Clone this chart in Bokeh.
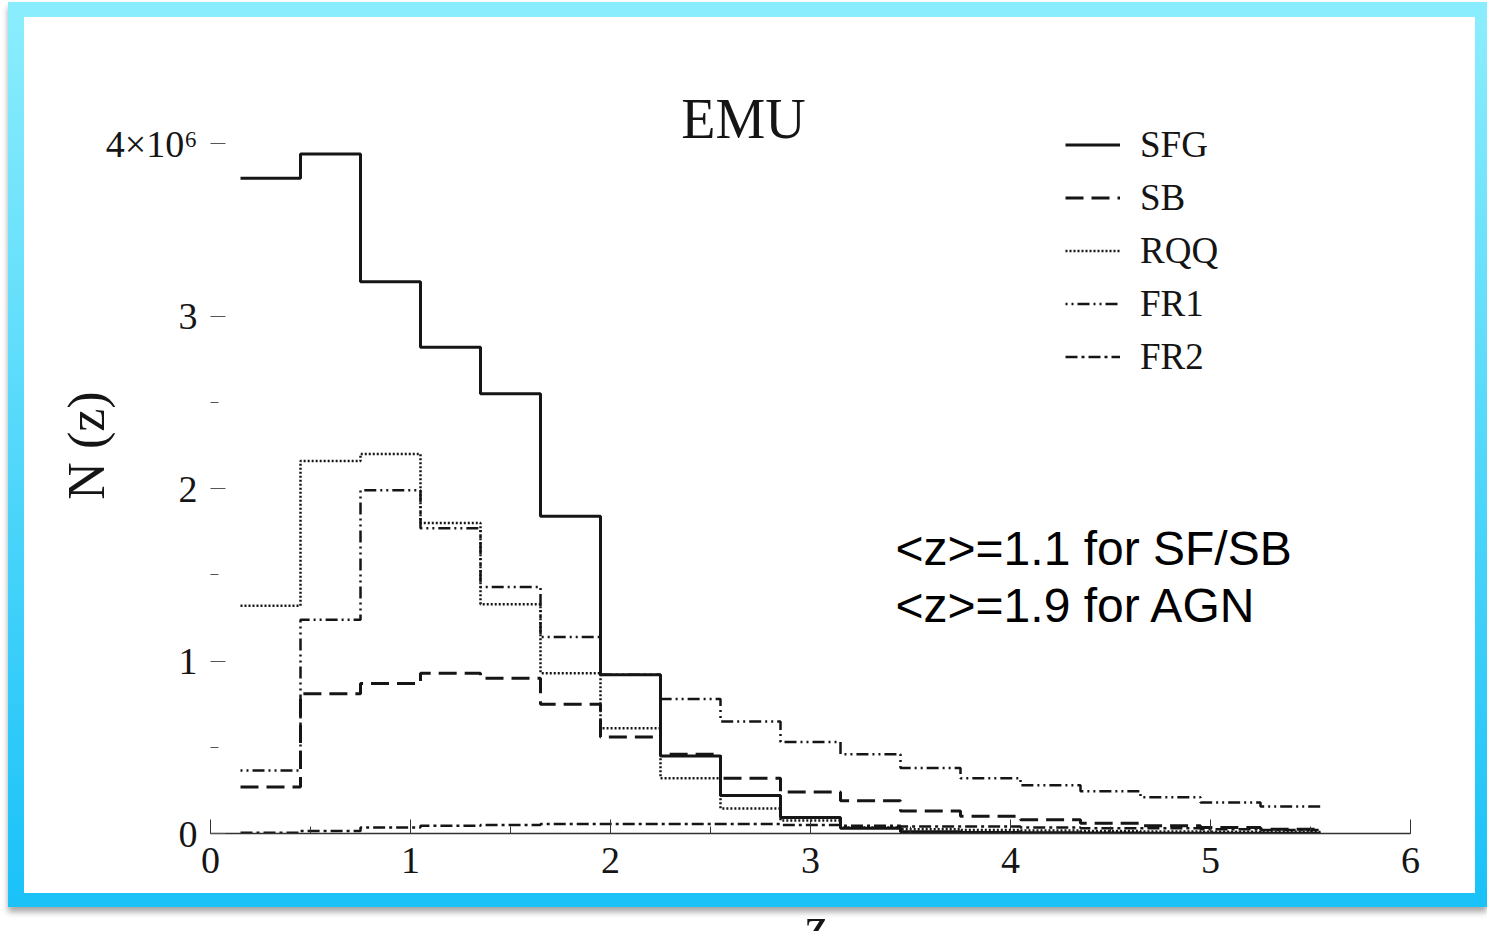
from bokeh.plotting import figure
from bokeh.models import (Range1d, LinearAxis, SingleIntervalTicker, FixedTicker,
                          Label, Legend, LegendItem, Div)
from bokeh.layouts import column
from bokeh.embed import file_html
from bokeh.resources import INLINE

# ---- data ----
bin_edges = [0.15, 0.45, 0.75, 1.05, 1.35, 1.65, 1.95, 2.25, 2.55, 2.85,
             3.15, 3.45, 3.75, 4.05, 4.35, 4.65, 4.95, 5.25, 5.55]
sfg = [3.80, 3.94, 3.20, 2.82, 2.55, 1.84, 0.92, 0.45, 0.22, 0.093,
       0.03, 0.01, 0.006, 0.004, 0.003, 0.002, 0.002, 0.001]
sb = [0.27, 0.81, 0.87, 0.93, 0.90, 0.75, 0.56, 0.46, 0.32, 0.24,
      0.19, 0.13, 0.10, 0.08, 0.06, 0.045, 0.035, 0.025]
rqq = [1.32, 2.16, 2.20, 1.80, 1.33, 0.93, 0.61, 0.32, 0.145, 0.075,
       0.035, 0.025, 0.02, 0.018, 0.015, 0.012, 0.01, 0.008]
fr1 = [0.365, 1.24, 1.99, 1.77, 1.43, 1.14, 0.92, 0.78, 0.65, 0.53,
       0.46, 0.38, 0.32, 0.28, 0.245, 0.21, 0.18, 0.157]
fr2 = [0.004, 0.015, 0.035, 0.045, 0.05, 0.055, 0.055, 0.055, 0.055, 0.05,
       0.045, 0.04, 0.04, 0.035, 0.03, 0.03, 0.025, 0.02]
series_names = ["SFG", "SB", "RQQ", "FR1", "FR2"]
y_ticks = [0, 1, 2, 3, 4]
y_minor = [0.5, 1.5, 2.5]
y_label_overrides = {4: "4×10⁶"}
title_text = "EMU"
note_lines = ["<z>=1.1 for SF/SB", "<z>=1.9 for AGN"]

SERIF = "Liberation Serif"
SANS = "Liberation Sans"
INK = "#151515"

p = figure(width=1479, height=905, x_range=Range1d(0, 6), y_range=Range1d(0, 4.5),
           output_backend="svg", toolbar_location=None,
           x_axis_type=None, y_axis_type=None,
           min_border_left=186, min_border_right=93, min_border_top=40, min_border_bottom=89)
p.margin = (2, 0, 0, 8)
p.outline_line_color = None
p.background_fill_color = "white"
p.border_fill_color = "white"
p.styles = {
    "border-style": "solid",
    "border-width": "15px 12px 14px 16px",
    "border-image": "linear-gradient(to bottom, #8aedfd, #1bc2f8) 1",
    "box-shadow": "0 5px 6px rgba(0,0,0,0.35)",
}

# axes
xaxis = LinearAxis(ticker=SingleIntervalTicker(interval=1, num_minor_ticks=2))
xaxis.axis_line_color = "#333333"
xaxis.axis_line_width = 1.5
xaxis.major_tick_in = 14
xaxis.major_tick_out = 0
xaxis.minor_tick_in = 7
xaxis.minor_tick_out = 0
xaxis.major_tick_line_color = "#333333"
xaxis.minor_tick_line_color = "#333333"
xaxis.major_label_text_font = SERIF
xaxis.major_label_text_font_size = "38px"
xaxis.major_label_text_color = INK
xaxis.major_label_standoff = 14
p.add_layout(xaxis, "below")

yaxis = LinearAxis(ticker=FixedTicker(ticks=y_ticks, minor_ticks=y_minor))
yaxis.axis_line_color = None
yaxis.major_tick_in = 15
yaxis.major_tick_out = 0
yaxis.minor_tick_in = 8
yaxis.minor_tick_out = 0
yaxis.major_tick_line_color = "#555555"
yaxis.minor_tick_line_color = "#555555"
yaxis.major_label_text_font = SERIF
yaxis.major_label_text_font_size = "38px"
yaxis.major_label_text_color = INK
yaxis.major_label_standoff = 13
yaxis.major_label_overrides = y_label_overrides
yaxis.axis_label = "N (z)"
yaxis.axis_label_text_font = SERIF
yaxis.axis_label_text_font_size = "52px"
yaxis.axis_label_text_font_style = "normal"
yaxis.axis_label_text_color = INK
yaxis.axis_label_standoff = -12
p.add_layout(yaxis, "left")

# histogram step lines
styles = [
    dict(line_width=3.0, line_dash="solid"),
    dict(line_width=3.0, line_dash="18 8"),
    dict(line_width=2.5, line_dash="2 2"),
    dict(line_width=2.5, line_dash="2 4 2 4 12 4"),
    dict(line_width=2.5, line_dash="12 4 3 4"),
]
items = []
for name, vals, st in zip(series_names, [sfg, sb, rqq, fr1, fr2], styles):
    r = p.step(x=bin_edges, y=vals + [vals[-1]], mode="after", line_color=INK, **st)
    items.append(LegendItem(label=name, renderers=[r]))

legend = Legend(items=items, location=(855, 455))
legend.label_text_font = SERIF
legend.label_text_font_size = "37px"
legend.label_text_color = INK
legend.glyph_width = 55
legend.glyph_height = 43
legend.label_height = 43
legend.spacing = 10
legend.padding = 0
legend.margin = 0
legend.label_standoff = 20
legend.border_line_color = None
legend.background_fill_alpha = 0
p.add_layout(legend)

p.add_layout(Label(x=2.665, y=4.145, text=title_text, text_font=SERIF, text_font_size="56px",
                   text_color=INK, text_align="center", text_baseline="middle"))

p.add_layout(Label(x=3.425, y=1.652, text=note_lines[0], text_font=SANS, text_font_size="48px",
                   text_color="black", text_align="left", text_baseline="middle"))
p.add_layout(Label(x=3.425, y=1.322, text=note_lines[1], text_font=SANS, text_font_size="48px",
                   text_color="black", text_align="left", text_baseline="middle"))

zdiv = Div(text=("<div style=\"font-family:'Liberation Serif';font-size:52px;line-height:52px;"
                 "margin-left:800px;margin-top:-12px;color:#151515\">z</div>"),
           width=1487, height=24, styles={"overflow": "hidden"})

layout = column(p, zdiv)
open("out.html", "w").write(file_html(layout, INLINE))
